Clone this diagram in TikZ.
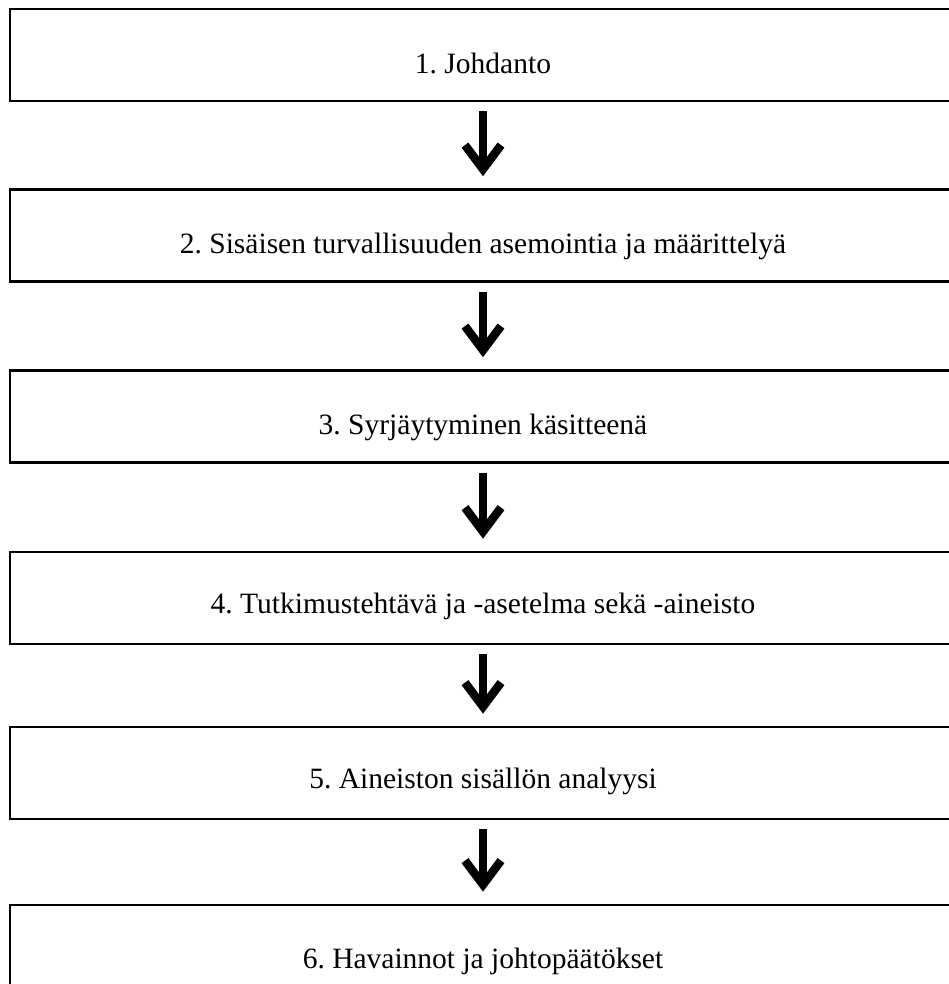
\documentclass[tikz,border=0pt]{standalone}
\usepackage{fontspec}
\setmainfont{Liberation Serif}
\usetikzlibrary{arrows.meta}
\frenchspacing

\tikzset{
  stagebox/.style={draw=black, line width=2.6pt, fill=white,
    minimum width=946pt, minimum height=92pt, inner sep=0pt},
  stagetext/.style={anchor=base, inner sep=0pt,
    font=\fontsize{29.5}{35}\selectfont},
  flowarrow/.style={draw=black, line width=8.5pt,
    -{Straight Barb[length=24pt, width=36pt, line width=8.5pt]}},
}

\begin{document}
\begin{tikzpicture}[x=1pt, y=1pt]
  \useasboundingbox (0,0) rectangle (949,-984);
  \clip (0,0) rectangle (949,-984);
  \fill[white] (0,0) rectangle (949,-984);

  % stage boxes (the right edge runs off the page)
  \node[stagebox] (b1) at (483,-55)    {};
  \node[stagebox] (b2) at (483,-235.5) {};
  \node[stagebox] (b3) at (483,-416.5) {};
  \node[stagebox] (b4) at (483,-598)   {};
  \node[stagebox] (b5) at (483,-773)   {};
  \node[stagebox] (b6) at (483,-951)   {};

  % stage titles, set low in each box
  \node[stagetext] (t1) at ([yshift=-66pt]b1.north) {1. Johdanto};
  \node[stagetext] (t2) at ([yshift=-65pt]b2.north) {2. Sisäisen turvallisuuden asemointia ja määrittelyä};
  \node[stagetext] (t3) at ([yshift=-65pt]b3.north) {3. Syrjäytyminen käsitteenä};
  \node[stagetext] (t4) at ([yshift=-63pt]b4.north) {4. Tutkimustehtävä ja -asetelma sekä -aineisto};
  \node[stagetext] (t5) at ([yshift=-63pt]b5.north) {5. Aineiston sisällön analyysi};
  \node[stagetext] (t6) at ([yshift=-65pt]b6.north) {6. Havainnot ja johtopäätökset};

  % downward arrows between consecutive stages
  \draw[flowarrow] ([yshift=-9pt]b1.south) -- ([yshift=12pt]b2.north);
  \draw[flowarrow] ([yshift=-9pt]b2.south) -- ([yshift=12pt]b3.north);
  \draw[flowarrow] ([yshift=-9pt]b3.south) -- ([yshift=12pt]b4.north);
  \draw[flowarrow] ([yshift=-9pt]b4.south) -- ([yshift=12pt]b5.north);
  \draw[flowarrow] ([yshift=-9pt]b5.south) -- ([yshift=12pt]b6.north);
\end{tikzpicture}
\end{document}
